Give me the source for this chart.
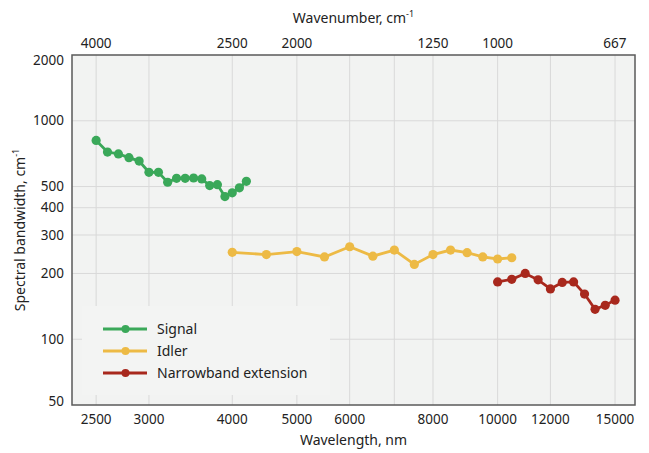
<!DOCTYPE html>
<html>
<head>
<meta charset="utf-8">
<script src="https://cdn.jsdelivr.net/npm/d3@7"></script>
<style>
  body { margin: 0; background: #fff; }
  svg text { font-family: 'Noto Sans', sans-serif; fill: #222; }
  .tick-label { font-size: 13.5px; }
  .axis-title { font-size: 14px; }
  .legend-label { font-size: 14px; }
</style>
</head>
<body>
<div id="chart"></div>
<script>
// Wavelength (nm) and spectral bandwidth (cm-1)
const signalWavelength = [2500, 2600, 2700, 2800, 2900, 3000, 3100, 3200, 3300, 3400, 3500, 3600, 3700, 3800, 3900, 4000, 4100, 4200];
const signalBandwidth = [813, 719, 705, 678, 654, 581, 581, 523, 545, 545, 547, 542, 505, 510, 450, 468, 493, 528];

const idlerWavelength = [4000, 4500, 5000, 5500, 6000, 6500, 7000, 7500, 8000, 8500, 9000, 9500, 10000, 10500];
const idlerBandwidth = [250, 244, 252, 238, 265, 240, 256, 220, 244, 256, 249, 238, 233, 236];

const narrowWavelength = [10000, 10500, 11000, 11500, 12000, 12500, 13000, 13500, 14000, 14500, 15000];
const narrowBandwidth = [183, 188, 200, 187, 170, 182, 183, 161, 137, 143, 151];

const seriesNames = ['Signal', 'Idler', 'Narrowband extension'];
const seriesColors = ['#3aa859', '#edba45', '#a8281d'];

const bottomTicks = [2500, 3000, 4000, 5000, 6000, 8000, 10000, 12000, 15000];
const gridX = [2500, 3000, 4000, 5000, 6000, 7000, 8000, 10000, 12000, 15000];
const topTicks = [4000, 2500, 2000, 1250, 1000, 667]; // wavenumber, cm-1
const yTicks = [50, 100, 200, 300, 400, 500, 1000, 2000];
const gridY = [100, 200, 300, 400, 500, 1000];

const width = 649;
const height = 453;
const margin = { top: 55, right: 14, bottom: 48, left: 72 };

const svg = d3
  .select('#chart')
  .append('svg')
  .attr('width', width)
  .attr('height', height);

const x = d3
  .scaleLog()
  .domain([2300, 16070])
  .range([margin.left, width - margin.right]);

const y = d3
  .scaleLog()
  .domain([50, 2000])
  .range([height - margin.bottom, margin.top]);

// plot background
svg
  .append('rect')
  .attr('x', margin.left)
  .attr('y', margin.top)
  .attr('width', width - margin.left - margin.right)
  .attr('height', height - margin.top - margin.bottom)
  .attr('fill', '#f2f3f2');

// grid lines
svg
  .append('g')
  .selectAll('line')
  .data(gridX)
  .join('line')
  .attr('x1', (d) => x(d))
  .attr('x2', (d) => x(d))
  .attr('y1', margin.top)
  .attr('y2', height - margin.bottom)
  .attr('stroke', '#d9d9d9')
  .attr('stroke-width', 1);

svg
  .append('g')
  .selectAll('line')
  .data(gridY)
  .join('line')
  .attr('x1', margin.left)
  .attr('x2', width - margin.right)
  .attr('y1', (d) => y(d))
  .attr('y2', (d) => y(d))
  .attr('stroke', '#d9d9d9')
  .attr('stroke-width', 1);

// legend box hides the grid behind it
const legend = svg.append('g').attr('transform', 'translate(82,306)');
legend
  .append('rect')
  .attr('width', 248)
  .attr('height', 89)
  .attr('fill', '#f3f4f3');

// frame
svg
  .append('rect')
  .attr('x', margin.left)
  .attr('y', margin.top)
  .attr('width', width - margin.left - margin.right)
  .attr('height', height - margin.top - margin.bottom)
  .attr('fill', 'none')
  .attr('stroke', '#5a5a5a')
  .attr('stroke-width', 1.5);

// tick labels
svg
  .append('g')
  .selectAll('text')
  .data(bottomTicks)
  .join('text')
  .attr('class', 'tick-label')
  .attr('x', (d) => x(d))
  .attr('y', height - margin.bottom + 19)
  .attr('text-anchor', 'middle')
  .text((d) => d);

svg
  .append('g')
  .selectAll('text')
  .data(topTicks)
  .join('text')
  .attr('class', 'tick-label')
  .attr('x', (d) => x(1e7 / d))
  .attr('y', margin.top - 7)
  .attr('text-anchor', 'middle')
  .text((d) => d);

svg
  .append('g')
  .selectAll('text')
  .data(yTicks)
  .join('text')
  .attr('class', 'tick-label')
  .attr('x', margin.left - 8)
  .attr('y', (d) => y(d))
  .attr('dy', (d) => (d === 2000 ? '0.75em' : d === 50 ? '0.1em' : '0.35em'))
  .attr('text-anchor', 'end')
  .text((d) => d);

// axis titles
svg
  .append('text')
  .attr('class', 'axis-title')
  .attr('x', (margin.left + width - margin.right) / 2)
  .attr('y', height - 8)
  .attr('text-anchor', 'middle')
  .text('Wavelength, nm');

const topTitle = svg
  .append('text')
  .attr('class', 'axis-title')
  .attr('x', (margin.left + width - margin.right) / 2)
  .attr('y', 23)
  .attr('text-anchor', 'middle');
topTitle.append('tspan').text('Wavenumber, cm');
topTitle.append('tspan').attr('font-size', '9px').attr('dy', -6).text('-1');

const leftTitle = svg
  .append('text')
  .attr('class', 'axis-title')
  .attr('transform', `translate(25,${(margin.top + height - margin.bottom) / 2}) rotate(-90)`)
  .attr('text-anchor', 'middle');
leftTitle.append('tspan').text('Spectral bandwidth, cm');
leftTitle.append('tspan').attr('font-size', '9px').attr('dy', -6).text('-1');

// series
const series = [
  { name: seriesNames[0], color: seriesColors[0], values: signalWavelength.map((w, i) => [w, signalBandwidth[i]]) },
  { name: seriesNames[1], color: seriesColors[1], values: idlerWavelength.map((w, i) => [w, idlerBandwidth[i]]) },
  { name: seriesNames[2], color: seriesColors[2], values: narrowWavelength.map((w, i) => [w, narrowBandwidth[i]]) },
];

const line = d3
  .line()
  .x((d) => x(d[0]))
  .y((d) => y(d[1]));

series.forEach((s) => {
  svg
    .append('path')
    .datum(s.values)
    .attr('d', line)
    .attr('fill', 'none')
    .attr('stroke', s.color)
    .attr('stroke-width', 2.8);

  svg
    .append('g')
    .selectAll('circle')
    .data(s.values)
    .join('circle')
    .attr('cx', (d) => x(d[0]))
    .attr('cy', (d) => y(d[1]))
    .attr('r', 4.6)
    .attr('fill', s.color);
});

// legend entries
const entry = legend
  .selectAll('g.entry')
  .data(series)
  .join('g')
  .attr('class', 'entry')
  .attr('transform', (d, i) => `translate(0,${23 + i * 22})`);

entry
  .append('line')
  .attr('x1', 21)
  .attr('x2', 65)
  .attr('stroke', (d) => d.color)
  .attr('stroke-width', 2.8);

entry
  .append('circle')
  .attr('cx', 43.5)
  .attr('r', 4)
  .attr('fill', (d) => d.color);

entry
  .append('text')
  .attr('class', 'legend-label')
  .attr('x', 75)
  .attr('dy', '0.35em')
  .text((d) => d.name);
</script>
</body>
</html>
